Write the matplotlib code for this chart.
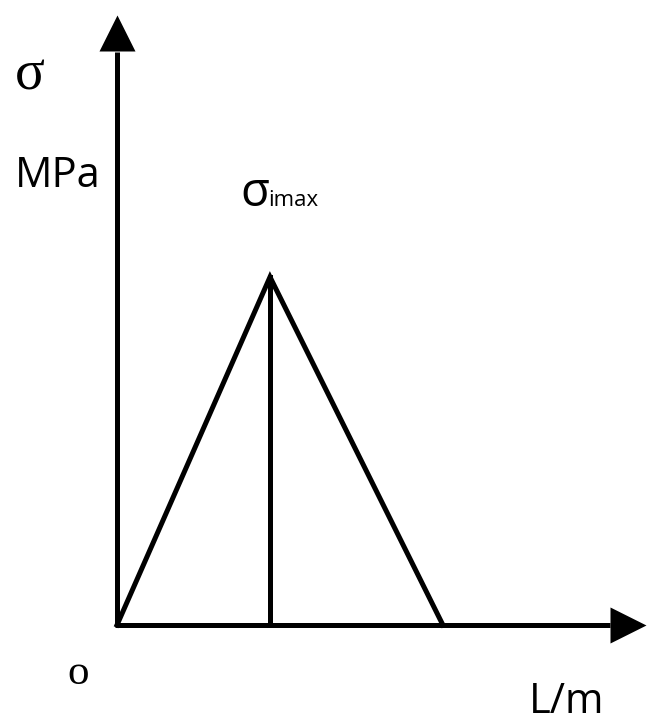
import matplotlib
matplotlib.use("Agg")
import matplotlib.pyplot as plt

# Data (L in units of the peak position, sigma normalised to the peak)
L_points = [0.0, 1.0, 2.13]
sigma_points = [0.0, 1.0, 0.0]
peak_L = 1.0
peak_sigma = 1.0
x_axis_end = 3.46
y_axis_end = 1.753

W, H = 660, 728
fig = plt.figure(figsize=(W / 100, H / 100), dpi=100)
ax = fig.add_axes([0, 0, 1, 1])
# pixel mapping: origin at (117, 625 from top); 153 px per L unit, 348 px per sigma unit
ax.set_xlim(-117 / 153, (W - 117) / 153)
ax.set_ylim(-(H - 625) / 348, 625 / 348)
ax.axis("off")

lw = 3.6
# triangle
ax.plot(L_points, sigma_points, color="black", lw=lw, solid_joinstyle="miter", zorder=3)
# vertical line at peak
ax.plot([peak_L, peak_L], [0, peak_sigma], color="black", lw=lw, zorder=3)

# axes with arrowheads
head_w = 36 / 100 * 72  # points
hx = 36 / 153
hy = 37 / 348
ax.plot([-2.5 / 153, x_axis_end - hx], [0, 0], color="black", lw=lw, solid_capstyle="butt", zorder=2)
ax.plot([0, 0], [0, y_axis_end - hy], color="black", lw=lw, solid_capstyle="butt", zorder=2)
ax.plot([x_axis_end - hx / 2], [0], marker=">", ms=head_w, color="black", mec="none", zorder=4)
ax.plot([0], [y_axis_end - hy / 2], marker="^", ms=head_w, color="black", mec="none", zorder=4)


def px(x, y):
    return x / W, 1 - y / H

sans = ["Open Sans", "DejaVu Sans"]
serif = ["Liberation Serif", "DejaVu Serif"]

fig.text(*px(15, 89), "σ", family=serif, fontsize=40, va="baseline", ha="left")
fig.text(*px(15, 187), "MPa", family=sans, fontsize=30, va="baseline", ha="left")
fig.text(*px(240, 206), "σ", family=sans, fontsize=34, va="baseline", ha="left")
fig.text(*px(268, 206), "imax", family=sans, fontsize=16, va="baseline", ha="left")
fig.text(*px(67, 684), "o", family=serif, fontsize=31, va="baseline", ha="left")
fig.text(*px(529, 713), "L/m", family=sans, fontsize=30, va="baseline", ha="left")

fig.savefig("out.png", dpi=100, facecolor="white")
